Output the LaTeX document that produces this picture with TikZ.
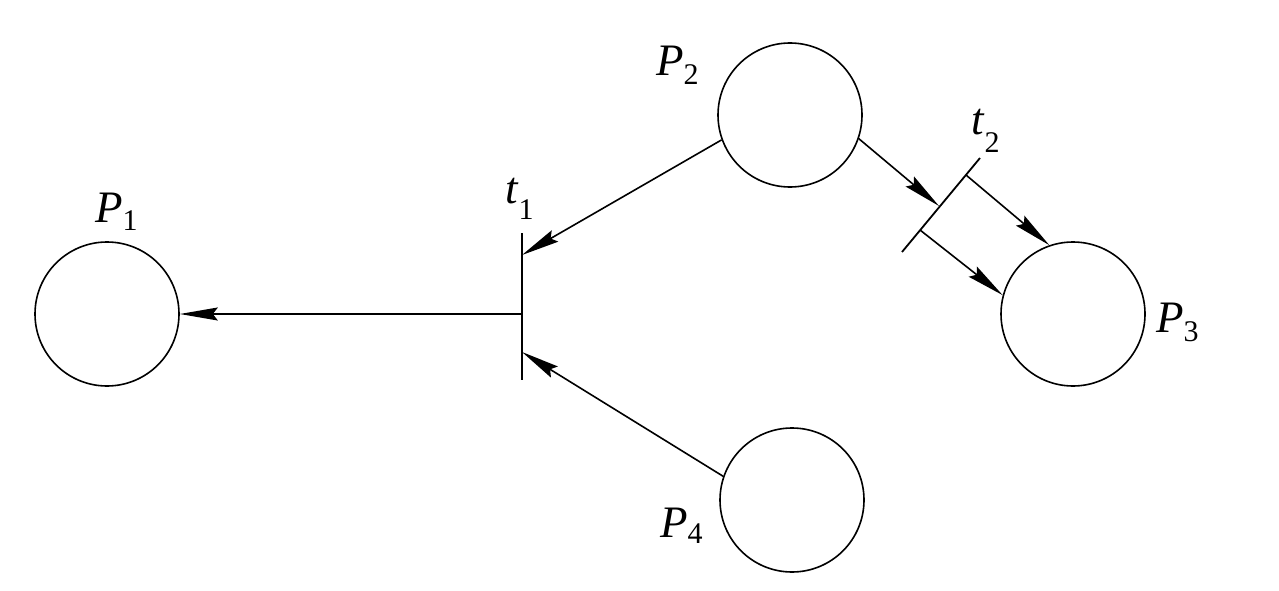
\documentclass[tikz,border=0pt]{standalone}
\usepackage{fontspec}
\setmainfont{Liberation Serif}
\usetikzlibrary{arrows.meta}
\newcommand{\plab}[2]{\fontsize{45}{50}\selectfont\textit{#1}\raisebox{-#2}{\fontsize{30}{32}\selectfont\upshape\hspace{1pt}}}
\newcommand{\lab}[3]{\fontsize{45}{50}\selectfont\textit{#1}\raisebox{-#3}{\fontsize{30}{32}\selectfont\upshape #2}}
\begin{document}
\begin{tikzpicture}[x=1pt,y=-1pt,
  place/.style={circle,draw,line width=1.6pt,minimum size=144pt,inner sep=0pt},
  bar/.style={line width=1.8pt},
  arr/.style={line width=1.6pt,-{Stealth[length=38pt,width=13pt,inset=5pt]}},
  lbl/.style={anchor=base west,inner sep=0pt}]
\useasboundingbox (0,0) rectangle (1279,591);
\fill[white] (0,0) rectangle (1279,591);
% places
\node[place] (P1) at (107,314) {};
\node[place] (P2) at (790,115) {};
\node[place] (P3) at (1073,314) {};
\node[place] (P4) at (792,500) {};
% transition t1
\coordinate (t1a) at (522,233);
\coordinate (t1b) at (522,380);
\coordinate (t1in1) at (522,255);
\coordinate (t1in2) at (522,352);
\coordinate (t1out) at (522,314);
\draw[bar] (t1a) -- (t1b);
% transition t2
\coordinate (t2a) at (980,158);
\coordinate (t2b) at (902,252);
\coordinate (t2in) at (939,206);
\coordinate (t2o1) at (966,175);
\coordinate (t2o2) at (920,230);
\draw[bar] (t2a) -- (t2b);
% arcs
\draw[arr] (t1out) -- (P1.east);
\draw[arr] (P2.200) -- (t1in1);
\draw[arr] (P4.161) -- (t1in2);
\draw[arr] (P2.-19) -- (t2in);
\draw[arr] (t2o1) -- (P3.109);
\draw[arr] (t2o2) -- (P3.165);
% labels
\node[lbl] (LP1) at (95,222) {\lab{P}{1}{8pt}};
\node[lbl] (LP2) at (656,76) {\lab{P}{2}{9pt}};
\node[lbl] (LP3) at (1156,332) {\lab{P}{3}{9pt}};
\node[lbl] (LP4) at (660,537) {\lab{P}{4}{6pt}};
\node[lbl] (Lt1) at (505,203) {\lab{t}{1}{16pt}};
\node[lbl] (Lt2) at (971,135) {\lab{t}{2}{18pt}};
\end{tikzpicture}
\end{document}
